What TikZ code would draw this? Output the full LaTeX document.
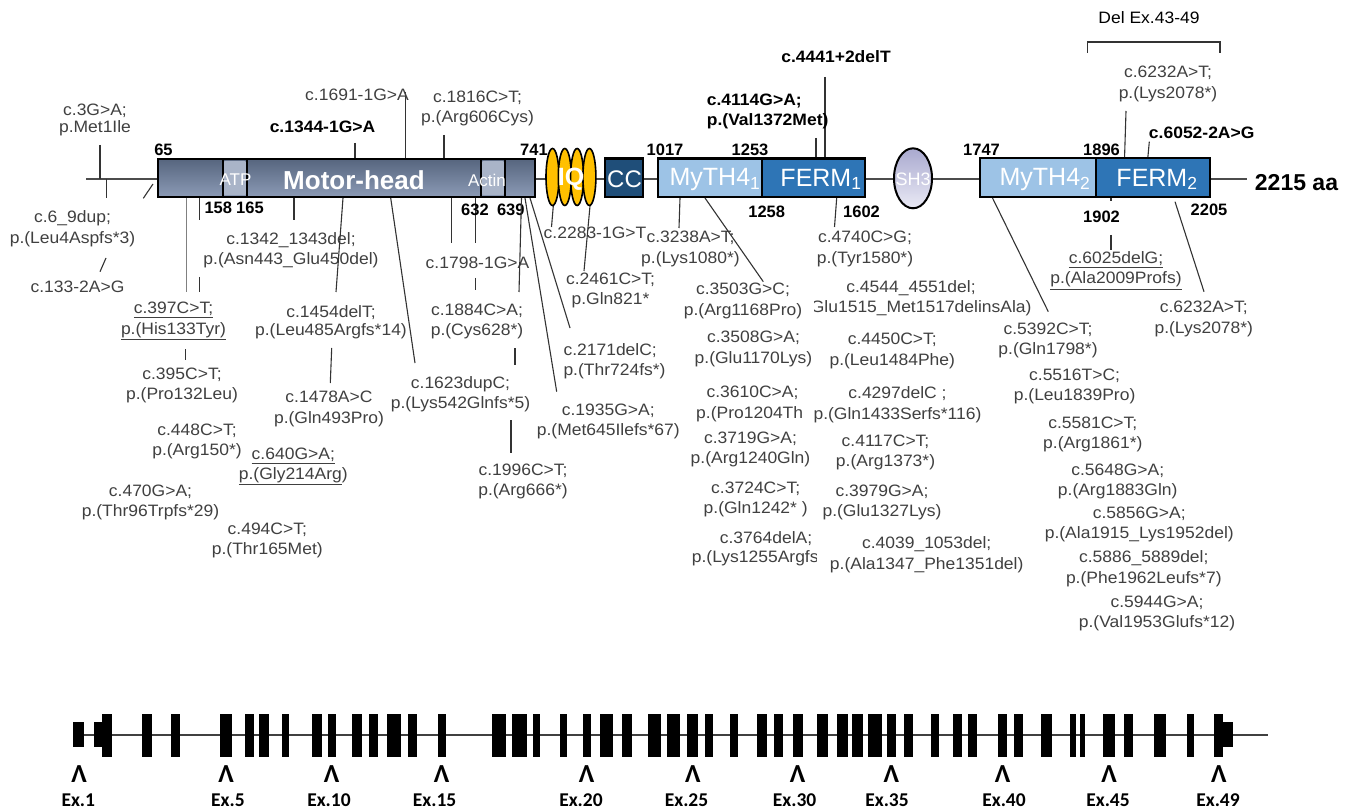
\documentclass[tikz,border=0pt]{standalone}
\usepackage{fontspec}
\setmainfont{Liberation Sans}
\newfontfamily\labfont[FakeStretch=1.06]{Liberation Sans}
\newfontfamily\exfont{Carlito}
\usetikzlibrary{shapes.geometric}

\definecolor{txtgray}{HTML}{404040}
\definecolor{motortop}{HTML}{56657E}
\definecolor{motorbot}{HTML}{8C9BB6}
\definecolor{subfill}{HTML}{A9B4C8}
\definecolor{iqfill}{HTML}{FFC000}
\definecolor{ccfill}{HTML}{1F4E79}
\definecolor{mythfill}{HTML}{9DC3E6}
\definecolor{fermfill}{HTML}{2E75B6}
\definecolor{shtop}{HTML}{A9A9CF}
\definecolor{shbot}{HTML}{EAEAF5}

\tikzset{
  mut/.style={font=\labfont\fontsize{16.5}{20.5}\selectfont, text=txtgray, align=center, inner sep=0pt},
  mutb/.style={font=\labfont\bfseries\fontsize{16.5}{20.5}\selectfont, text=black, align=center, inner sep=0pt},
  num/.style={font=\bfseries\fontsize{16.5}{18}\selectfont, text=black, inner sep=0pt},
  conn/.style={draw=black!80, line width=1.1pt},
  thinconn/.style={draw=black!50, line width=0.7pt},
  backbone/.style={draw=black!70, line width=2.4pt},
  dombox/.style={draw=black, line width=2.2pt, rectangle, inner sep=0pt, minimum height=38.5pt},
  subbox/.style={fill=subfill, rounded corners=2pt, inner sep=0pt, minimum height=34pt},
  iqoval/.style={ellipse, draw=black, line width=1.6pt, fill=iqfill, inner sep=0pt, minimum width=13pt, minimum height=57pt},
  domtxt/.style={text=white, inner sep=0pt, font=\fontsize{25}{28}\selectfont},
  smalltxt/.style={text=white, inner sep=0pt, font=\fontsize{17}{20}\selectfont},
  exonline/.style={draw=black!75, line width=2.2pt},
  exon/.style={fill=black},
  caret/.style={font=\exfont\bfseries\fontsize{26}{28}\selectfont, inner sep=0pt},
  exlab/.style={font=\exfont\bfseries\fontsize{19.5}{22}\selectfont, inner sep=0pt},
}

\begin{document}
\begin{tikzpicture}[x=1pt,y=-1pt]
\useasboundingbox[fill=white] (0,0) rectangle (1352,810);

% ---------------- protein backbone ----------------
\draw[backbone] (86,179) -- (1247,179);

% ---------------- connectors above the protein ----------------
\draw[conn] (100,145) -- (100,179);
\draw[conn] (405.7,92) -- (405.7,159);
\draw[conn] (355,143) -- (355,159);
\draw[conn] (444,135) -- (444,159);
\draw[conn] (816,138) -- (816,159);
\draw[conn] (825,77) -- (825,159);
\draw[conn] (1126,111) -- (1124.5,159);
\draw[conn] (1149.3,141.7) -- (1147.7,159);
% bracket for the deleted exons
\draw[conn] (1087.3,53) -- (1087.3,42) -- (1220,42) -- (1220,53);

% ---------------- connectors below the protein ----------------
\draw[conn] (106.7,179) -- (106.7,198);
\draw[conn] (153,184) -- (143.3,198.3);
\draw[conn] (106,258) -- (100,271.7);
\draw[thinconn] (186,198) -- (186,292);
\draw[conn] (199.3,198) -- (199.3,220);
\draw[conn] (199.3,277) -- (199.3,292);
\draw[conn] (185.7,349) -- (185.7,360);
\draw[conn] (294,198) -- (294,220);
\draw[conn] (331.7,348) -- (330.3,383);
\draw[conn] (451.7,198) -- (451.7,243);
\draw[conn] (475.3,198) -- (475.3,243);
\draw[conn] (475.3,278) -- (475.3,290);
\draw[conn] (515,348) -- (515,365);
\draw[conn] (511,420) -- (511,453);
\draw[conn] (553.3,206) -- (551.5,227);
\draw[conn] (680,198) -- (679,228);
\draw[conn] (836.7,198) -- (834.5,227);
\draw[conn] (992.5,198) -- (1048.3,311.7);
\draw[conn] (1111,198) -- (1111,201);
\draw[conn] (1111,235) -- (1111,250);
\draw[conn] (1175,201.7) -- (1204,291.7);
\draw[conn] (525,198) -- (556.7,391.7);
\draw[conn] (530,198) -- (570,328);

% ---------------- domains ----------------
\node[dombox, minimum width=377pt, top color=motortop, bottom color=motorbot] (motor) at (346.5,178) {};
\node[subbox, minimum width=23pt] (atp) at (234.8,178) {};
\node[subbox, minimum width=23pt] (actin) at (493,178) {};
\draw[black, line width=2.2pt] (223,159) -- (223,197) (246.7,159) -- (246.7,197);
\draw[black, line width=2.2pt] (481,159) -- (481,197) (505,159) -- (505,197);
\node[smalltxt] (atpl) at (235.5,180) {ATP};
\node[smalltxt] (actinl) at (487,180) {Actin};
\node[domtxt, font=\bfseries\fontsize{26}{28}\selectfont] (motorl) at (354,180) {Motor-head};

\node[iqoval] (iq1) at (552.5,177) {};
\node[iqoval] (iq2) at (564.8,177) {};
\node[iqoval] (iq3) at (577.1,177) {};
\node[iqoval] (iq4) at (589.4,177) {};
\node[domtxt, font=\bfseries\fontsize{25}{28}\selectfont] (iql) at (571,179) {IQ};

\node[dombox, minimum width=38.3pt, fill=ccfill] (cc) at (624.2,177.7) {};
\node[domtxt, font=\fontsize{24}{28}\selectfont] (ccl) at (624.5,179) {CC};

\node[dombox, minimum width=103.4pt, fill=mythfill] (myth1) at (710,177.8) {};
\node[dombox, minimum width=103.3pt, fill=fermfill] (ferm1) at (813.3,177.8) {};
\node[domtxt] (myth1l) at (715,179.5) {MyTH4\textsubscript{1}};
\node[domtxt] (ferm1l) at (821,179.5) {FERM\textsubscript{1}};

\node[ellipse, draw=black, line width=2pt, top color=shtop, bottom color=shbot, inner sep=0pt, minimum width=38pt, minimum height=60pt] (sh3) at (913,178.3) {};
\node[smalltxt, font=\fontsize{18}{20}\selectfont] (sh3l) at (913,179) {SH3};

\node[dombox, minimum width=116pt, fill=mythfill] (myth2) at (1038,177.5) {};
\node[dombox, minimum width=114pt, fill=fermfill] (ferm2) at (1153,177.5) {};
\node[domtxt] (myth2l) at (1045,179.5) {MyTH4\textsubscript{2}};
\node[domtxt] (ferm2l) at (1157,179.5) {FERM\textsubscript{2}};

\node[font=\bfseries\fontsize{23}{26}\selectfont, inner sep=0pt] (len) at (1296.5,183) {2215 aa};

% ---------------- residue numbers ----------------
\node[num] (r65) at (163.5,150) {65};
\node[num] (r158) at (218.3,208) {158};
\node[num] (r165) at (250,208) {165};
\node[num] (r632) at (475,210) {632};
\node[num] (r639) at (510.8,210) {639};
\node[num] (r741) at (534,150) {741};
\node[num] (r1017) at (665,150) {1017};
\node[num] (r1253) at (750,150) {1253};
\node[num] (r1258) at (766.7,211.7) {1258};
\node[num] (r1602) at (861.5,211.7) {1602};
\node[num] (r1747) at (981.5,150) {1747};
\node[num] (r1896) at (1101.5,150) {1896};
\node[num] (r1902) at (1101.5,216.7) {1902};
\node[num] (r2205) at (1209,210) {2205};

% ---------------- variant labels ----------------
\node[mut] (v3) at (95,120) {c.3G>A;\\[-3.8pt]p.Met1Ile};
\node[mut] (v1691) at (357,95) {c.1691-1G>A};
\node[mutb] (v1344) at (322.5,127) {c.1344-1G>A};
\node[mut] (v1816) at (477.5,108.3) {c.1816C>T;\\p.(Arg606Cys)};
\node[mutb, align=left, anchor=west] (v4114) at (706.7,111.7) {c.4114G>A;\\p.(Val1372Met)};
\node[mutb] (v4441) at (836,56.7) {c.4441+2delT};
\node[mut] (v6232a) at (1168,84.2) {c.6232A>T;\\p.(Lys2078*)};
\node[mutb] (v6052) at (1201.7,132.7) {c.6052-2A>G};
\node[mut, text=black] (del) at (1149,18) {Del Ex.43-49};

\node[mut] (v6) at (72.5,228.5) {c.6\_9dup;\\p.(Leu4Aspfs*3)};
\node[mut] (v133) at (77.5,286.7) {c.133-2A>G};
\node[mut] (v1342) at (291,250) {c.1342\_1343del;\\[-0.5pt]p.(Asn443\_Glu450del)};
\node[mut] (v397) at (173.5,321) {\underline{c.397C>T;}\\\underline{p.(His133Tyr)}};
\node[mut] (v395) at (182,385) {c.395C>T;\\[-0.5pt]p.(Pro132Leu)};
\node[mut] (v448) at (197,441.7) {c.448C>T;\\[-0.5pt]p.(Arg150*)};
\node[mut] (v640) at (293.3,466.7) {\underline{c.640G>A;}\\[-0.5pt]\underline{p.(Gly214Arg})};
\node[mut] (v470) at (150.5,502.2) {c.470G>A;\\p.(Thr96Trpfs*29)};
\node[mut] (v494) at (267.3,540) {c.494C>T;\\[-0.5pt]p.(Thr165Met)};
\node[mut] (v1454) at (331,322.3) {c.1454delT;\\[-2pt]p.(Leu485Argfs*14)};
\node[mut] (v1478) at (329,408.8) {c.1478A>C\\p.(Gln493Pro)};
\node[mut] (v1623) at (460.5,394.2) {c.1623dupC;\\p.(Lys542Glnfs*5)};
\node[mut] (v1798) at (477.5,262.7) {c.1798-1G>A};
\node[mut] (v1884) at (477,321.7) {c.1884C>A;\\[-0.5pt]p.(Cys628*)};
\node[mut] (v1996) at (523,481.7) {c.1996C>T;\\[-0.5pt]p.(Arg666*)};
\node[mut, align=left, anchor=west] (v2171) at (563.3,361.7) {c.2171delC;\\[-0.5pt]p.(Thr724fs*)};
\node[mut] (v1935) at (608.3,421.7) {c.1935G>A;\\[-0.5pt]p.(Met645Ilefs*67)};
\node[mut] (v2283) at (595,233.3) {c.2283-1G>T};
\node[mut] (v2461) at (610.5,290) {c.2461C>T;\\[-0.5pt]p.Gln821*};
\node[mut] (v3238) at (690.5,248.8) {c.3238A>T;\\p.(Lys1080*)};
\node[mut] (v3503) at (743,300.8) {c.3503G>C;\\p.(Arg1168Pro)};
\node[mut] (v3508) at (753.5,349.2) {c.3508G>A;\\p.(Glu1170Lys)};
\node[mut] (v3610) at (752.5,392.7) {c.3610C>A;};
\begin{scope}
  \clip (690,400) rectangle (803.5,428);
  \node[mut, anchor=west] (v3610p) at (696,414) {p.(Pro1204Thr};
\end{scope}
\node[mut] (v3719) at (750.5,449.3) {c.3719G>A;\\[-0.5pt]p.(Arg1240Gln)};
\node[mut] (v3724) at (755.7,499.3) {c.3724C>T;\\[-0.5pt]p.(Gln1242* )};
\node[mut] (v3764) at (766,538.3) {c.3764delA;};
\begin{scope}
  \clip (685,545) rectangle (816.7,572);
  \node[mut, anchor=west] (v3764p) at (691.7,558.3) {p.(Lys1255Argfs};
\end{scope}
\node[mut] (v4740) at (865,248.8) {c.4740C>G;\\p.(Tyr1580*)};
\begin{scope}
  \clip (814.5,275) rectangle (1045,322);
  \node[mut] (v4544) at (911,298.3) {c.4544\_4551del;\\[-0.5pt]p.(Glu1515\_Met1517delinsAla)};
\end{scope}
\node[mut] (v4450) at (892.3,351.2) {c.4450C>T;\\p.(Leu1484Phe)};
\node[mut] (v4297) at (897.5,404.5) {c.4297delC ;\\p.(Gln1433Serfs*116)};
\node[mut] (v4117) at (885.5,452.7) {c.4117C>T;\\[-0.5pt]p.(Arg1373*)};
\node[mut] (v3979) at (882,502.7) {c.3979G>A;\\[-0.5pt]p.(Glu1327Lys)};
\node[mut] (v4039) at (926.7,554.5) {c.4039\_1053del;\\p.(Ala1347\_Phe1351del)};
\node[mut] (v6025) at (1116,270.7) {\underline{c.6025delG;}\\[-0.5pt]\underline{p.(Ala2009Profs)}};
\node[mut] (v6232b) at (1203.8,318.8) {c.6232A>T;\\p.(Lys2078*)};
\node[mut] (v5392) at (1048,340) {c.5392C>T;\\[-0.5pt]p.(Gln1798*)};
\node[mut] (v5516) at (1074.6,386.3) {c.5516T>C;\\p.(Leu1839Pro)};
\node[mut] (v5581) at (1092.8,434) {c.5581C>T;\\[-0.5pt]p.(Arg1861*)};
\node[mut] (v5648) at (1117.7,481.7) {c.5648G>A;\\[-0.5pt]p.(Arg1883Gln)};
\node[mut] (v5856) at (1139.3,524.2) {c.5856G>A;\\p.(Ala1915\_Lys1952del)};
\node[mut] (v5886) at (1143.8,568.8) {c.5886\_5889del;\\p.(Phe1962Leufs*7)};
\node[mut] (v5944) at (1157,613.3) {c.5944G>A;\\[-0.5pt]p.(Val1953Glufs*12)};

% connectors drawn over the labels they cross
\draw[conn] (343,198) -- (336,292);
\draw[conn] (390.7,198) -- (415,363);
\draw[conn] (521.5,198) -- (519,292);
\draw[conn] (590,206) -- (584,271);
\draw[conn] (705,198) -- (763.3,281.7);

% ---------------- gene structure (exons) ----------------
\draw[exonline] (73,735) -- (1268,735);
\foreach \a/\b in {73.3/84, 94/101.7, 1223.3/1233.3}
  \fill[exon] (\a,721.7) rectangle (\b,746.7);
\foreach \a/\b in {101.7/112.3, 141.7/152.3, 170.7/180, 220/232.3, 245.3/254.3,
  259.3/269, 281.7/289.3, 312.3/321.7, 327.7/335.7, 351.7/361.7, 369.3/378.3,
  386.7/400.7, 407.7/416.7, 437.7/445.7, 491.7/505.7, 512.3/526.7, 533.3/539.7,
  560/566.7, 582.7/590.7, 600/613.3, 622.3/631.7, 647.7/660.7, 666.7/680,
  687.3/698.3, 705/713, 730.3/738.3, 757.3/767.3, 773.7/783.3, 792.7/802.7,
  816.7/827.7, 837/848.3, 851.7/863.3, 867.7/881.7, 886.7/896, 904/913.3,
  930.7/938.7, 953.3/962.3, 967.7/977, 998/1007.3, 1013.7/1023.3, 1040.7/1051.7,
  1069.7/1076, 1080.3/1085, 1102.7/1115.3, 1123.7/1133.3, 1153.7/1166,
  1187/1193.7, 1214.3/1223.3}
  \fill[exon] (\a,714) rectangle (\b,756.7);

% exon markers and numbers
\foreach \n/\cx/\lx in {1/79/78.3, 5/226/228, 10/331.7/329, 15/441.7/434.6,
  20/586.7/581, 25/692.8/686.5, 30/797.7/794.6, 35/891.3/887,
  40/1002.7/1004, 45/1109/1108, 49/1218.8/1218}{
  \node[caret] (mk\n) at (\cx,774) {Λ};
  \node[exlab] (ex\n) at (\lx,800.5) {Ex.\n};
}
\end{tikzpicture}
\end{document}
